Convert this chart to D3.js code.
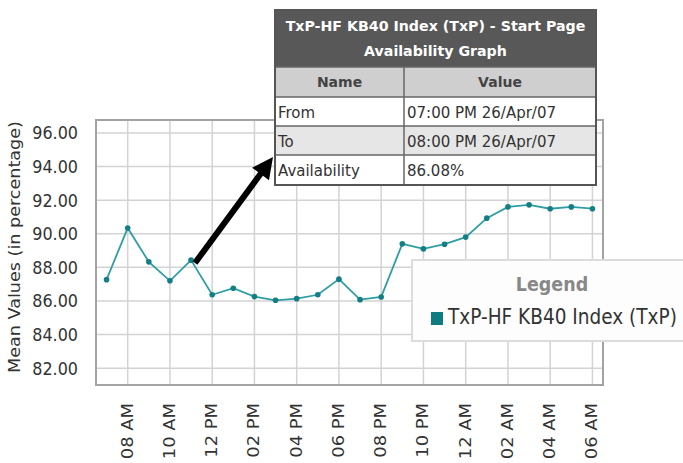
<!DOCTYPE html>
<html>
<head>
<meta charset="utf-8">
<script src="https://cdn.jsdelivr.net/npm/d3@7"></script>
<style>
  body { margin: 0; background: #fff; }
  text { font-family: "DejaVu Sans", sans-serif; }
</style>
</head>
<body>
<svg id="chart" width="683" height="463"></svg>
<script>
// hourly samples, 07 AM one day to 06 AM the next
var hours = ["07 AM", "08 AM", "09 AM", "10 AM", "11 AM", "12 PM", "01 PM", "02 PM",
  "03 PM", "04 PM", "05 PM", "06 PM", "07 PM", "08 PM", "09 PM", "10 PM", "11 PM",
  "12 AM", "01 AM", "02 AM", "03 AM", "04 AM", "05 AM", "06 AM"];
var values = [87.27, 90.34, 88.33, 87.2, 88.43, 86.37, 86.76, 86.26,
  86.04, 86.14, 86.37, 87.3, 86.08, 86.24, 89.4, 89.1, 89.38,
  89.8, 90.93, 91.6, 91.72, 91.49, 91.6, 91.49];
var tickLabels = ["08 AM", "10 AM", "12 PM", "02 PM", "04 PM", "06 PM",
  "08 PM", "10 PM", "12 AM", "02 AM", "04 AM", "06 AM"];
var yTicks = [82, 84, 86, 88, 90, 92, 94, 96];
var seriesName = "TxP-HF KB40 Index (TxP)";
var yTitle = "Mean Values (in percentage)";
var tipTitle = ["TxP-HF KB40 Index (TxP) - Start Page", "Availability Graph"];
var tipHead = ["Name", "Value"];
var tipNames = ["From", "To", "Availability"];
var tipValues = ["07:00 PM 26/Apr/07", "08:00 PM 26/Apr/07", "86.08%"];

var svg = d3.select("#chart");

// plot box
var pLeft = 96, pRight = 603, pTop = 120, pBottom = 385;
var sy = 1.12; // picture is a little taller than wide

var x = d3.scaleLinear().domain([-0.5, hours.length - 0.5]).range([pLeft, pRight]);
var y = d3.scaleLinear().domain([81, 96.77]).range([pBottom, pTop]);

var grid = svg.append("g").attr("stroke", "#d3d3d3").attr("stroke-width", 1.5);
grid.selectAll(".h").data(yTicks).enter().append("line")
  .attr("x1", pLeft).attr("x2", pRight)
  .attr("y1", d => y(d)).attr("y2", d => y(d));
grid.selectAll(".v").data(tickLabels).enter().append("line")
  .attr("x1", d => x(hours.indexOf(d))).attr("x2", d => x(hours.indexOf(d)))
  .attr("y1", pTop).attr("y2", pBottom);

svg.append("rect")
  .attr("x", pLeft).attr("y", pTop)
  .attr("width", pRight - pLeft).attr("height", pBottom - pTop)
  .attr("fill", "none").attr("stroke", "#a3a3a3").attr("stroke-width", 2);

// y tick labels
svg.selectAll(".ylab").data(yTicks).enter().append("text")
  .attr("transform", d => "translate(78," + y(d) + ") scale(1," + sy + ")")
  .attr("dy", "0.36em")
  .attr("text-anchor", "end")
  .style("font-size", "16px")
  .attr("fill", "#333")
  .text(d3.format(".2f"));

// x tick labels
svg.selectAll(".xlab").data(tickLabels).enter().append("text")
  .attr("transform", d => "translate(" + (x(hours.indexOf(d)) + 5) + ",403) scale(1," + sy + ") rotate(-90)")
  .attr("text-anchor", "end")
  .style("font-size", "16px")
  .attr("fill", "#333")
  .text(d => d);

svg.append("text")
  .attr("transform", "translate(20,247) scale(1,1.1) rotate(-90)")
  .attr("text-anchor", "middle")
  .style("font-size", "16px")
  .attr("fill", "#333")
  .text(yTitle);

// series
var line = d3.line()
  .x((d, i) => x(i))
  .y(d => y(d));

svg.append("path")
  .datum(values)
  .attr("d", line)
  .attr("fill", "none")
  .attr("stroke", "#2f9ea4")
  .attr("stroke-width", 1.8);

svg.selectAll(".pt").data(values).enter().append("circle")
  .attr("cx", (d, i) => x(i))
  .attr("cy", d => y(d))
  .attr("r", 2.8)
  .attr("fill", "#137f84");

// legend
var lg = svg.append("g");
lg.append("rect")
  .attr("x", 412).attr("y", 260).attr("width", 300).attr("height", 81)
  .attr("fill", "#fdfdfd").attr("stroke", "#dcdcdc").attr("stroke-width", 2);
lg.append("text")
  .attr("transform", "translate(552,291) scale(1,1.1)")
  .attr("text-anchor", "middle")
  .style("font-size", "17.5px").style("font-weight", "bold")
  .attr("fill", "#888")
  .text("Legend");
lg.append("rect")
  .attr("x", 431).attr("y", 312).attr("width", 12).attr("height", 13)
  .attr("fill", "#0e7c80");
lg.append("text")
  .attr("transform", "translate(448,324) scale(1,1.1)")
  .style("font-size", "18.5px")
  .attr("fill", "#333")
  .text(seriesName);

// arrow pointing at the tooltip
var a0 = [195, 263], a1 = [273, 157];
var dx = a1[0] - a0[0], dy = a1[1] - a0[1], len = Math.hypot(dx, dy);
var ux = dx / len, uy = dy / len;
var hl = 21, hw = 10.5;
var bx = a1[0] - ux * hl, by = a1[1] - uy * hl;
svg.append("line")
  .attr("x1", a0[0]).attr("y1", a0[1]).attr("x2", bx + ux * 2).attr("y2", by + uy * 2)
  .attr("stroke", "#000").attr("stroke-width", 6);
svg.append("polygon")
  .attr("points", [a1, [bx - uy * hw, by + ux * hw], [bx + uy * hw, by - ux * hw]].map(p => p.join(",")).join(" "))
  .attr("fill", "#000");

// tooltip table
var tx = 275, tw = 321, colX = 404;
var rowsY = [67, 97, 126, 155, 185];
var tip = svg.append("g");
tip.append("rect").attr("x", tx).attr("y", 10).attr("width", tw).attr("height", 57).attr("fill", "#585858");
tip.append("rect").attr("x", tx).attr("y", rowsY[0]).attr("width", tw).attr("height", rowsY[1] - rowsY[0]).attr("fill", "#cfcfcf");
tip.selectAll(".row").data(tipNames).enter().append("rect")
  .attr("x", tx).attr("y", (d, i) => rowsY[i + 1])
  .attr("width", tw).attr("height", (d, i) => rowsY[i + 2] - rowsY[i + 1])
  .attr("fill", (d, i) => i === 1 ? "#e6e6e6" : "#fff");
tip.selectAll(".hl").data(rowsY.slice(0, 4)).enter().append("line")
  .attr("x1", tx).attr("x2", tx + tw).attr("y1", d => d).attr("y2", d => d)
  .attr("stroke", "#666").attr("stroke-width", 1.5);
tip.append("line").attr("x1", colX).attr("x2", colX).attr("y1", rowsY[0]).attr("y2", rowsY[4])
  .attr("stroke", "#666").attr("stroke-width", 1.5);
tip.append("rect").attr("x", tx).attr("y", 10).attr("width", tw).attr("height", rowsY[4] - 10)
  .attr("fill", "none").attr("stroke", "#555").attr("stroke-width", 2);

tip.selectAll(".tt").data(tipTitle).enter().append("text")
  .attr("x", tx + tw / 2).attr("y", (d, i) => 31 + i * 25)
  .attr("text-anchor", "middle")
  .style("font-size", "14.2px").style("font-weight", "bold")
  .attr("fill", "#fff")
  .text(d => d);
tip.selectAll(".th").data(tipHead).enter().append("text")
  .attr("x", (d, i) => i === 0 ? (tx + colX) / 2 : (colX + tx + tw) / 2)
  .attr("y", 87)
  .attr("text-anchor", "middle")
  .style("font-size", "14px").style("font-weight", "bold")
  .attr("fill", "#444")
  .text(d => d);
tip.selectAll(".tn").data(tipNames).enter().append("text")
  .attr("x", tx + 3).attr("y", (d, i) => rowsY[i + 1] + 21)
  .style("font-size", "15px")
  .attr("fill", "#333")
  .text(d => d);
tip.selectAll(".tv").data(tipValues).enter().append("text")
  .attr("x", colX + 3).attr("y", (d, i) => rowsY[i + 1] + 21)
  .style("font-size", "15px")
  .attr("fill", "#333")
  .text(d => d);
</script>
</body>
</html>
